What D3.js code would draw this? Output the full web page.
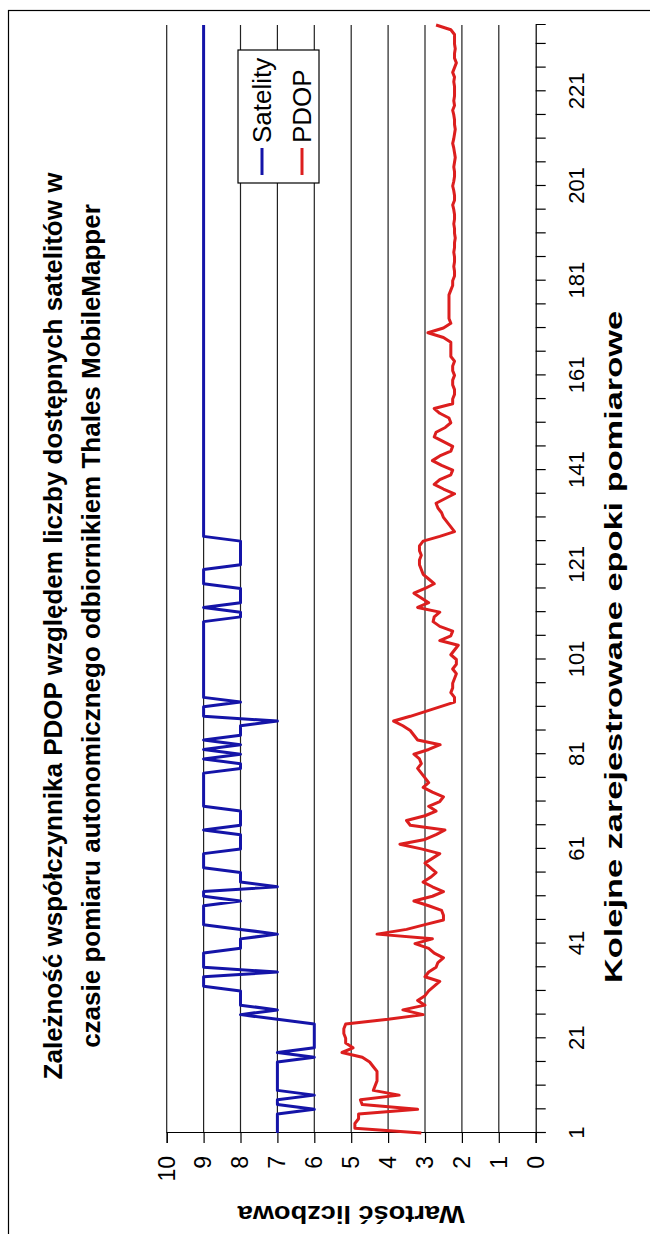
<!DOCTYPE html>
<html>
<head>
<meta charset="utf-8">
<script src="https://cdn.jsdelivr.net/npm/d3@7"></script>
<style>
  body { margin: 0; background: #fff; }
  svg { display: block; }
  text { font-family: "Liberation Sans", Arial, sans-serif; fill: #000; }
</style>
</head>
<body>
<div id="chart"></div>
<script>
// liczba satelitów dla kolejnych epok (1..235)
var satelity = [
  7,7,7,7,7,6,7,7,6,7,
  7,7,7,7,7,7,6,7,6,6,
  6,6,6,6,7,8,7,8,8,8,
  8,9,9,9,7,9,9,9,9,8,
  8,8,7,8,9,9,9,9,9,8,
  9,9,7,8,8,8,9,9,9,9,
  8,8,8,8,9,8,8,8,8,9,
  9,9,9,9,9,9,9,8,8,9,
  8,9,8,9,8,8,8,7,9,9,
  9,8,9,9,9,9,9,9,9,9,
  9,9,9,9,9,9,9,9,9,8,
  8,9,8,8,8,8,9,9,9,9,
  8,8,8,8,8,8,9,9,9,9,
  9,9,9,9,9,9,9,9,9,9,
  9,9,9,9,9,9,9,9,9,9,
  9,9,9,9,9,9,9,9,9,9,
  9,9,9,9,9,9,9,9,9,9,
  9,9,9,9,9,9,9,9,9,9,
  9,9,9,9,9,9,9,9,9,9,
  9,9,9,9,9,9,9,9,9,9,
  9,9,9,9,9,9,9,9,9,9,
  9,9,9,9,9,9,9,9,9,9,
  9,9,9,9,9,9,9,9,9,9,
  9,9,9,9,9
];

// PDOP dla kolejnych epok (1..235)
var pdop = [
  3.1,4.9,4.9,4.8,4.8,3.2,4.7,4.75,3.7,4.4,
  4.35,4.3,4.3,4.3,4.4,4.5,4.7,5.25,4.95,5.15,
  5.15,5.2,5.2,5.15,4.0,3.05,3.6,3.0,3.2,3.0,
  2.9,2.75,2.6,3.0,2.9,2.7,2.65,2.5,2.75,2.9,
  3.27,2.8,4.3,3.5,3.0,2.5,2.5,2.55,2.9,3.3,
  2.8,2.5,2.8,3.05,2.85,2.7,2.85,3.0,2.8,2.6,
  3.1,3.68,3.0,2.7,2.46,3.4,3.5,3.0,2.7,2.9,
  2.6,2.5,2.8,3.05,2.9,3.0,3.1,3.2,3.1,3.15,
  3.3,2.9,2.59,3.2,3.3,3.4,3.6,3.85,3.4,3.0,
  2.6,2.2,2.2,2.3,2.25,2.25,2.2,2.15,2.25,2.15,
  2.15,2.3,2.2,2.1,2.6,2.3,2.25,2.6,2.78,2.75,
  2.6,3.2,2.9,3.1,3.3,3.0,2.75,2.9,3.05,3.1,
  3.15,3.15,3.1,3.15,3.15,3.05,2.6,2.2,2.3,2.4,
  2.5,2.55,2.65,2.7,2.45,2.2,2.5,2.75,2.6,2.3,
  2.25,2.55,2.8,2.6,2.3,2.25,2.5,2.75,2.7,2.45,
  2.3,2.35,2.6,2.75,2.25,2.25,2.2,2.2,2.25,2.25,
  2.2,2.25,2.25,2.2,2.3,2.3,2.3,2.3,2.5,2.92,
  2.5,2.3,2.35,2.35,2.35,2.35,2.35,2.35,2.3,2.25,
  2.25,2.2,2.2,2.22,2.2,2.2,2.22,2.2,2.2,2.18,
  2.2,2.2,2.22,2.2,2.2,2.22,2.25,2.2,2.2,2.22,
  2.25,2.22,2.2,2.2,2.22,2.2,2.18,2.2,2.22,2.25,
  2.22,2.2,2.18,2.2,2.2,2.22,2.25,2.2,2.22,2.2,
  2.2,2.2,2.22,2.2,2.25,2.2,2.15,2.2,2.2,2.18,
  2.2,2.2,2.2,2.3,2.7
];

var valueTicks = [0,1,2,3,4,5,6,7,8,9,10];
var epochLabels = [1,21,41,61,81,101,121,141,161,181,201,221];
var seriesNames = ["Satelity", "PDOP"];
var titleLines = [
  "Zależność współczynnika PDOP względem liczby dostępnych satelitów w",
  "czasie pomiaru autonomicznego odbiornikiem Thales MobileMapper"
];
var xTitle = "Kolejne zarejestrowane epoki pomiarowe";
var yTitle = "Wartość liczbowa";

var W = 650, H = 1234;
var blue = "#1414a8", red = "#dc1e1e";

var svg = d3.select("#chart").append("svg")
    .attr("width", W)
    .attr("height", H);

// ramka wykresu
svg.append("rect")
    .attr("x", 8.5).attr("y", 10.5)
    .attr("width", 700).attr("height", 1300)
    .attr("fill", "none").attr("stroke", "#000").attr("stroke-width", 1.2);

// wykres poziomy obrócony o 90 stopni
var g = svg.append("g")
    .attr("transform", "translate(0," + H + ") rotate(-90)");

var x = d3.scaleLinear().domain([1, 235]).range([101, 1209]);
var y = d3.scaleLinear().domain([0, 10]).range([535.7, 166.7]);

// linie siatki
g.selectAll(".grid")
    .data(valueTicks.slice(1))
    .enter().append("line")
    .attr("class", "grid")
    .attr("x1", x(1)).attr("x2", x(235))
    .attr("y1", function (d) { return y(d); })
    .attr("y2", function (d) { return y(d); })
    .attr("stroke", "#222").attr("stroke-width", 1.2);

var yAxis = d3.axisLeft(y).tickValues(valueTicks).tickSize(10).tickPadding(13);
var gy = g.append("g")
    .attr("transform", "translate(" + x(1) + ",0)")
    .call(yAxis);
gy.selectAll("text").style("font-size", "23px");

var xAxis = d3.axisBottom(x)
    .tickValues(d3.range(1, 236, 5))
    .tickSize(10).tickPadding(23)
    .tickFormat(function (d) { return epochLabels.indexOf(d) >= 0 ? d : ""; });
var gx = g.append("g")
    .attr("transform", "translate(0," + y(0) + ")")
    .call(xAxis);
gx.selectAll("text").style("font-size", "22px");

g.selectAll(".domain").attr("stroke", "#000").attr("stroke-width", 1.2);
g.selectAll(".tick line").attr("stroke", "#000").attr("stroke-width", 1.2);

// serie
var line = d3.line()
    .x(function (d, i) { return x(i + 1); })
    .y(function (d) { return y(d); });

g.append("path").datum(satelity)
    .attr("d", line).attr("fill", "none")
    .attr("stroke", blue).attr("stroke-width", 3).attr("stroke-linejoin", "round");
g.append("path").datum(pdop)
    .attr("d", line).attr("fill", "none")
    .attr("stroke", red).attr("stroke-width", 3).attr("stroke-linejoin", "round");

// legenda
var leg = g.append("g").attr("transform", "translate(1051,238)");
leg.append("rect")
    .attr("width", 133).attr("height", 81)
    .attr("fill", "#fff").attr("stroke", "#000").attr("stroke-width", 1.2);
[blue, red].forEach(function (c, i) {
    var cy = 24 + i * 40;
    leg.append("line")
        .attr("x1", 8).attr("x2", 35).attr("y1", cy).attr("y2", cy)
        .attr("stroke", c).attr("stroke-width", 3);
    leg.append("text")
        .attr("x", 40).attr("y", cy + 9)
        .style("font-size", "26px")
        .text(seriesNames[i]);
});

// tytuły
titleLines.forEach(function (t, i) {
    g.append("text")
        .attr("x", 608).attr("y", 62 + i * 38)
        .attr("text-anchor", "middle")
        .style("font-size", "26px").style("font-weight", "bold")
        .text(t);
});

g.append("text")
    .attr("x", 587).attr("y", 622)
    .attr("text-anchor", "middle")
    .attr("textLength", 672).attr("lengthAdjust", "spacingAndGlyphs")
    .style("font-size", "24px").style("font-weight", "bold")
    .text(xTitle);

g.append("text")
    .attr("transform", "translate(28," + ((y(0) + y(10)) / 2) + ") rotate(-90)")
    .attr("text-anchor", "middle")
    .attr("textLength", 227).attr("lengthAdjust", "spacingAndGlyphs")
    .style("font-size", "24px").style("font-weight", "bold")
    .text(yTitle);
</script>
</body>
</html>
